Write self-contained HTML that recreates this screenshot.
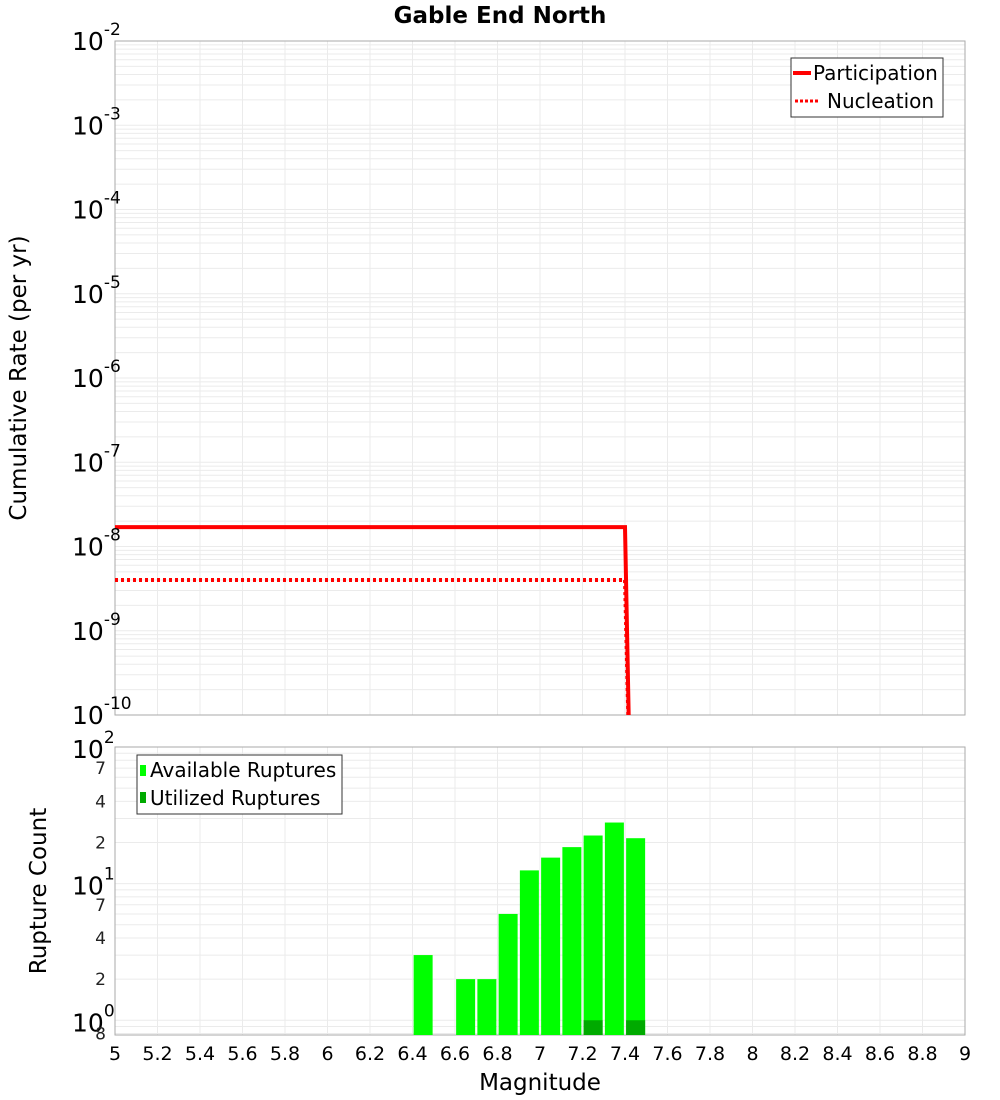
<!DOCTYPE html>
<html><head><meta charset="utf-8"><style>
body{margin:0;background:#fff}
svg{font-family:"DejaVu Sans","Liberation Sans",sans-serif;display:block}
</style></head><body>
<svg id="c" width="1000" height="1100" xmlns="http://www.w3.org/2000/svg">
<rect width="1000" height="1100" fill="#fff"/>
<text x="500" y="23" text-anchor="middle" font-size="23" font-weight="bold">Gable End North</text>
<g id="top"></g>
<g id="bot"></g>
<text transform="translate(26,378) rotate(-90)" text-anchor="middle" font-size="23">Cumulative Rate (per yr)</text>
<text transform="translate(46,891) rotate(-90)" text-anchor="middle" font-size="23">Rupture Count</text>
<text x="540" y="1090" text-anchor="middle" font-size="23">Magnitude</text>
</svg>
<script>
const partMags=[5.0,7.4,7.425];
const partRates=[1.7e-8,1.7e-8,1e-11];
const nuclMags=[5.0,7.4,7.425];
const nuclRates=[4e-9,4e-9,1e-11];
const binCenters=[6.45,6.65,6.75,6.85,6.95,7.05,7.15,7.25,7.35,7.45];
const availCounts=[3,2,2,6,12.5,15.5,18.5,22.5,28,21.5];
const usedCounts=[0,0,0,0,0,0,0,1,0,1];
const xTicks=[5,5.2,5.4,5.6,5.8,6,6.2,6.4,6.6,6.8,7,7.2,7.4,7.6,7.8,8,8.2,8.4,8.6,8.8,9];
const topExps=[-2,-3,-4,-5,-6,-7,-8,-9,-10];
const botExps=[2,1,0];
const botMinor=[7,4,2,7,4,2,8];
const botMinorVal=[70,40,20,7,4,2,0.8];

const NS="http://www.w3.org/2000/svg";
function mk(p,t,a,txt){const e=document.createElementNS(NS,t);for(const k in a)e.setAttribute(k,a[k]);if(txt!==undefined)e.textContent=txt;p.appendChild(e);return e;}
const X0=115,X1=965;
const xs=m=>X0+(m-5)/4*(X1-X0);
const T0=41,T1=715;
const ty=v=>T0+(-2-Math.log10(v))/8*(T1-T0);
const B0=747,B1=1035,Bmin=0.78;
const by=v=>B0+(2-Math.log10(v))/(2-Math.log10(Bmin))*(B1-B0);

const gTop=document.getElementById('top');
const gBot=document.getElementById('bot');
for(let d=-10;d<-2;d++)for(let k=1;k<10;k++){const y=ty(k*Math.pow(10,d));if(y<T0||y>T1)continue;
 const g=mk(gTop,'line',{x1:X0,x2:X1,y1:y,y2:y,stroke:'#ebebeb','stroke-width':1});
 
 }
xTicks.forEach(t=>{const g=mk(gTop,'line',{x1:xs(t),x2:xs(t),y1:T0,y2:T1,stroke:'#ebebeb'});
 
 
 const h=mk(gBot,'line',{x1:xs(t),x2:xs(t),y1:B0,y2:B1,stroke:'#ebebeb'});
 
 });
for(let d=-1;d<2;d++)for(let k=1;k<10;k++){const y=by(k*Math.pow(10,d));if(y<B0||y>B1)continue;
 const g=mk(gBot,'line',{x1:X0,x2:X1,y1:y,y2:y,stroke:'#ebebeb'});
 
 }
const f1=mk(gTop,'rect',{x:X0,y:T0,width:X1-X0,height:T1-T0,fill:'none',stroke:'#aaa'});


const f2=mk(gBot,'rect',{x:X0,y:B0,width:X1-X0,height:B1-B0,fill:'none',stroke:'#aaa'});


const defs=mk(document.getElementById('c'),'defs',{});
const cp=mk(defs,'clipPath',{id:'ct'});mk(cp,'rect',{x:X0,y:T0,width:X1-X0,height:T1-T0});
function pts(ms,rs){return ms.map((m,i)=>xs(m)+','+ty(rs[i])).join(' ');}
const pl=mk(gTop,'polyline',{points:pts(partMags,partRates),fill:'none',stroke:'#f00','stroke-width':4,'clip-path':'url(#ct)'});


const nl=mk(gTop,'polyline',{points:pts(nuclMags,nuclRates),fill:'none',stroke:'#f00','stroke-width':4,'stroke-dasharray':'3,3','clip-path':'url(#ct)'});


topExps.forEach(e=>{const y=ty(Math.pow(10,e));const t=mk(gTop,'text',{x:72,y:y+9,'font-size':25});
 
 
 t.textContent='10';mk(t,'tspan',{dy:-15,'font-size':17},String(e));});
const lg=mk(gTop,'g',{});


mk(lg,'rect',{x:791,y:58,width:152,height:59,fill:'#fff',stroke:'#333'});
mk(lg,'line',{x1:793,x2:811,y1:73,y2:73,stroke:'#f00','stroke-width':4});
mk(lg,'text',{x:813,y:80,'font-size':20},'Participation');
mk(lg,'line',{x1:795,x2:820,y1:101,y2:101,stroke:'#f00','stroke-width':3,'stroke-dasharray':'3,2'});
mk(lg,'text',{x:827,y:108,'font-size':20},'Nucleation');
const bw=19;
binCenters.forEach((c,i)=>{const y=by(availCounts[i]);
 const r=mk(gBot,'rect',{x:xs(c)-bw/2,y:y,width:bw,height:B1-y,fill:'#00ff00'});
 
 
 if(usedCounts[i]>0){const y2=by(usedCounts[i]);
  const u=mk(gBot,'rect',{x:xs(c)-bw/2,y:y2,width:bw,height:B1-y2,fill:'#00aa00'});
  
  }});
botExps.forEach(e=>{const y=by(Math.pow(10,e));const t=mk(gBot,'text',{x:72,y:y+11,'font-size':25});
 
 
 t.textContent='10';mk(t,'tspan',{dy:-15,'font-size':17},String(e));});
botMinor.forEach((m,i)=>{const t=mk(gBot,'text',{x:106,y:by(botMinorVal[i])+6,'font-size':17,'text-anchor':'end',fill:'#222'},String(m));
 
 });
xTicks.forEach(t=>{const s=mk(gBot,'text',{x:xs(t),y:1060,'font-size':19,'text-anchor':'middle'},String(t));
 
 });
const lb=mk(gBot,'g',{});


mk(lb,'rect',{x:137,y:755,width:205,height:59,fill:'#fff',stroke:'#333'});
mk(lb,'rect',{x:140,y:765,width:6,height:11,fill:'#00ff00'});
mk(lb,'text',{x:150,y:777,'font-size':20},'Available Ruptures');
mk(lb,'rect',{x:140,y:792,width:6,height:11,fill:'#00aa00'});
mk(lb,'text',{x:150,y:805,'font-size':20},'Utilized Ruptures');
</script>
</body></html>
